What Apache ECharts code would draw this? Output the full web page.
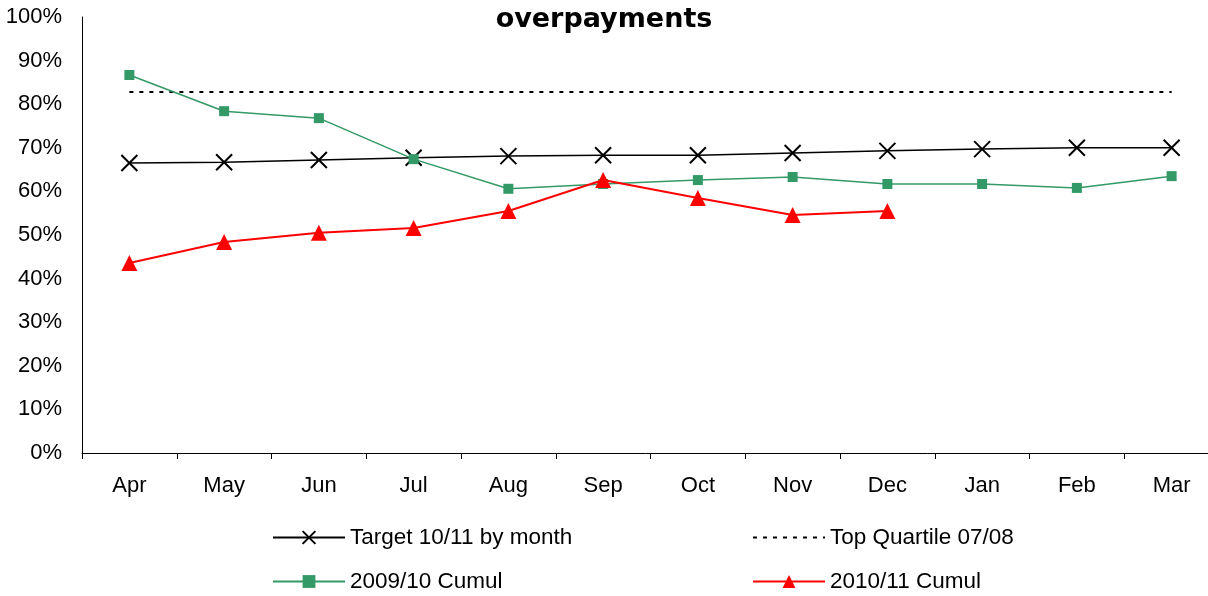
<!DOCTYPE html>
<html>
<head>
<meta charset="utf-8">
<script src="https://cdn.jsdelivr.net/npm/echarts@6/dist/echarts.min.js"></script>
<style>
  html, body { margin: 0; padding: 0; background: #fff; }
  #chart { width: 1208px; height: 596px; }
</style>
</head>
<body>
<div id="chart"></div>
<script>
var months = ['Apr', 'May', 'Jun', 'Jul', 'Aug', 'Sep', 'Oct', 'Nov', 'Dec', 'Jan', 'Feb', 'Mar'];
var target = [66.5, 66.7, 67.2, 67.7, 68.1, 68.3, 68.3, 68.8, 69.3, 69.7, 70.0, 70.0];
var topQuartile = [82.8, 82.8, 82.8, 82.8, 82.8, 82.8, 82.8, 82.8, 82.8, 82.8, 82.8, 82.8];
var cumul0910 = [86.7, 78.4, 76.8, 67.4, 60.6, 61.7, 62.6, 63.3, 61.7, 61.7, 60.8, 63.5];
var cumul1011 = [43.6, 48.4, 50.5, 51.6, 55.5, 62.6, 58.5, 54.6, 55.5];

var font = 'Liberation Sans, Arial, sans-serif';
var crossPath = 'path://M0,0L10,10M10,0L0,10';

var chart = echarts.init(document.getElementById('chart'));

function legendAt(name, left, top, hideSymbol) {
    var lg = {
        data: [name],
        left: left,
        top: top,
        padding: 0,
        itemWidth: 72,
        itemHeight: 16,
        textStyle: { fontFamily: font, fontSize: 22.5, color: '#000' }
    };
    if (hideSymbol) {
        lg.itemStyle = { color: 'transparent', borderWidth: 0 };
    }
    return lg;
}

var option = {
    animation: false,
    backgroundColor: '#fff',
    title: {
        text: 'overpayments',
        left: 'center',
        top: 1,
        textStyle: { fontFamily: 'DejaVu Sans, sans-serif', fontSize: 27, fontWeight: 'bold', color: '#000' }
    },
    legend: [
        legendAt('Target 10/11 by month', 272, 526),
        legendAt('Top Quartile 07/08', 752, 526, true),
        legendAt('2009/10 Cumul', 272, 570),
        legendAt('2010/11 Cumul', 752, 570)
    ],
    grid: { left: 82, width: 1137, top: 17, height: 436, outerBoundsMode: 'none', containLabel: false },
    xAxis: {
        type: 'category',
        data: months,
        boundaryGap: true,
        axisLine: { lineStyle: { color: '#000', width: 1 } },
        axisTick: { show: true, length: 6, lineStyle: { color: '#000' } },
        axisLabel: { fontFamily: font, fontSize: 22, color: '#000', margin: 22 }
    },
    yAxis: {
        type: 'value',
        min: 0,
        max: 100,
        interval: 10,
        axisLine: { show: true, lineStyle: { color: '#000', width: 1 } },
        axisTick: { show: false },
        splitLine: { show: false },
        axisLabel: { fontFamily: font, fontSize: 22, color: '#000', margin: 20, formatter: '{value}%' }
    },
    series: [
        {
            name: 'Target 10/11 by month',
            type: 'line',
            data: target,
            symbol: crossPath,
            symbolSize: 16,
            lineStyle: { color: '#000', width: 1.5 },
            itemStyle: { color: '#000', borderColor: '#000', borderWidth: 2 },
            z: 3
        },
        {
            name: 'Top Quartile 07/08',
            type: 'line',
            data: topQuartile,
            symbol: 'none',
            lineStyle: { color: '#000', width: 2, type: [4, 6] },
            itemStyle: { color: '#000' },
            z: 2
        },
        {
            name: '2009/10 Cumul',
            type: 'line',
            data: cumul0910,
            symbol: 'rect',
            symbolSize: 10,
            lineStyle: { color: '#339966', width: 1.5 },
            itemStyle: { color: '#339966' },
            z: 4
        },
        {
            name: '2010/11 Cumul',
            type: 'line',
            data: cumul1011,
            symbol: 'triangle',
            symbolSize: 16,
            lineStyle: { color: '#ff0000', width: 2 },
            itemStyle: { color: '#ff0000' },
            z: 5
        }
    ]
};

chart.setOption(option);
</script>
</body>
</html>
